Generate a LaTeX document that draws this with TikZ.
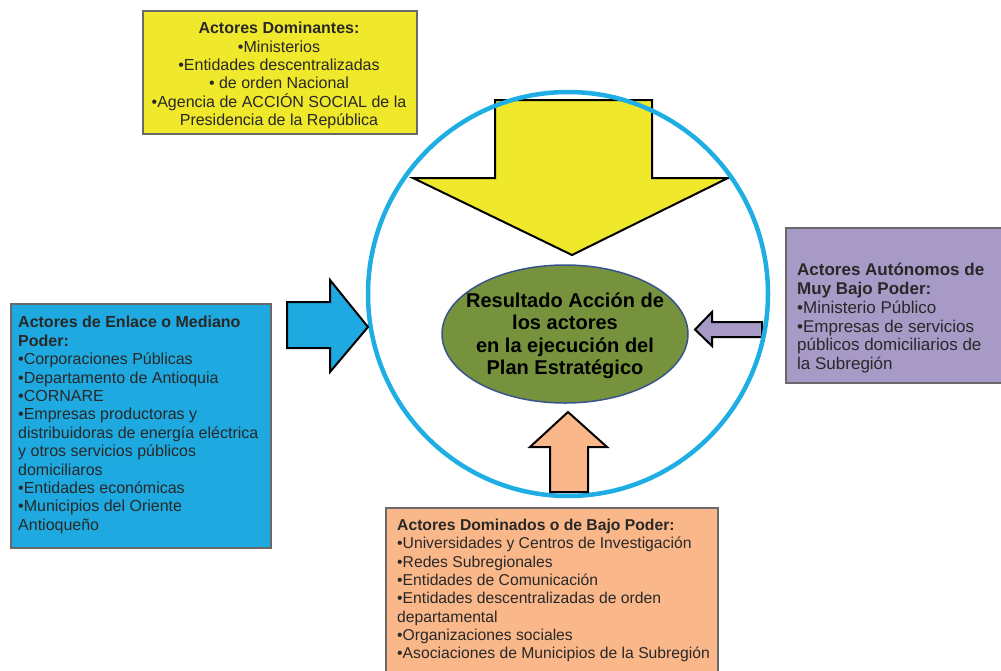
\documentclass[tikz,border=0pt]{standalone}
\usepackage{fontspec}
\setmainfont{Liberation Sans}
\usetikzlibrary{calc,shapes.geometric}
\definecolor{yel}{RGB}{240,232,42}
\definecolor{blu}{RGB}{30,170,224}
\definecolor{pur}{RGB}{168,154,198}
\definecolor{pea}{RGB}{250,184,138}
\definecolor{grn}{RGB}{118,146,60}
\definecolor{cyc}{RGB}{30,174,228}
\definecolor{elb}{RGB}{55,85,140}
\definecolor{boxgray}{RGB}{105,105,105}
\definecolor{txt}{RGB}{40,40,40}
\begin{document}
\begin{tikzpicture}[x=1pt,y=-1pt,
  box/.style={draw=boxgray, line width=1.5pt, inner sep=0pt, anchor=north west},
  body/.style={inner sep=0pt, font=\fontsize{16}{18.4}\selectfont, text=txt, align=left, anchor=north west},
  blockarrow/.style={draw=black, line width=2pt, line join=miter}]
\useasboundingbox (0,0) rectangle (1001,670);

% yellow block arrow (behind the circle)
\draw[blockarrow, fill=yel] (495,100) -- (652,100) -- (652,178) -- (728,178) -- (572,255) -- (413,178) -- (495,178) -- cycle;
% purple block arrow
\draw[blockarrow, fill=pur] (762,322) -- (712,322) -- (712,312) -- (695,329.5) -- (712,346) -- (712,337) -- (762,337) -- cycle;

% big circle
\node[draw=cyc, line width=4.5pt, ellipse, minimum width=400pt, minimum height=404pt, inner sep=0pt] (ring) at (568,294) {};

% peach block arrow
\draw[blockarrow, fill=pea] (550,492) -- (550,447) -- (530,447) -- (568,412) -- (607,447) -- (588,447) -- (588,492) -- cycle;
% blue block arrow
\draw[blockarrow, fill=blu] (287,302) -- (330,302) -- (330,280) -- (368,327) -- (330,372) -- (330,348) -- (287,348) -- cycle;

% central ellipse
\node[draw=elb, line width=1.5pt, fill=grn, ellipse, minimum width=246pt, minimum height=138pt, inner sep=0pt] (res) at (565,334) {};
\node[inner sep=0pt, align=center, font=\fontsize{20}{22.5}\selectfont\bfseries] (restxt) at (565,336)
  {Resultado Acción de\\los actores\\en la ejecución del\\Plan Estratégico};

% boxes
\node[box, fill=yel, minimum width=274pt, minimum height=123pt] (dom) at (142,10) {};
\node[body, align=center, anchor=north] (domtxt) at (279,22)
  {\textbf{Actores Dominantes:}\\•Ministerios\\•Entidades descentralizadas\\• de orden Nacional\\•Agencia de ACCIÓN SOCIAL de la\\Presidencia de la República};

\node[box, fill=blu, minimum width=260pt, minimum height=244pt] (enl) at (10,303) {};
\node[body] (enltxt) at (18,316)
  {\textbf{Actores de Enlace o Mediano}\\\textbf{Poder:}\\•Corporaciones Públicas\\•Departamento de Antioquia\\•CORNARE\\•Empresas productoras y\\distribuidoras de energía eléctrica\\y otros servicios públicos\\domiciliaros\\•Entidades económicas\\•Municipios del Oriente\\Antioqueño};

\node[box, fill=pur, minimum width=225pt, minimum height=155pt] (aut) at (785,227) {};
\node[body, font=\fontsize{17}{18.8}\selectfont] (auttxt) at (797,263)
  {\textbf{Actores Autónomos de}\\\textbf{Muy Bajo Poder:}\\•Ministerio Público\\•Empresas de servicios\\públicos domiciliarios de\\la Subregión};

\node[box, fill=pea, minimum width=332pt, minimum height=175pt] (bajo) at (385,507) {};
\node[body, font=\fontsize{15.7}{18.3}\selectfont] (bajotxt) at (397,519)
  {\textbf{Actores Dominados o de Bajo Poder:}\\•Universidades y Centros de Investigación\\•Redes Subregionales\\•Entidades de Comunicación\\•Entidades descentralizadas de orden\\departamental\\•Organizaciones sociales\\•Asociaciones de Municipios de la Subregión};
\end{tikzpicture}
\end{document}
